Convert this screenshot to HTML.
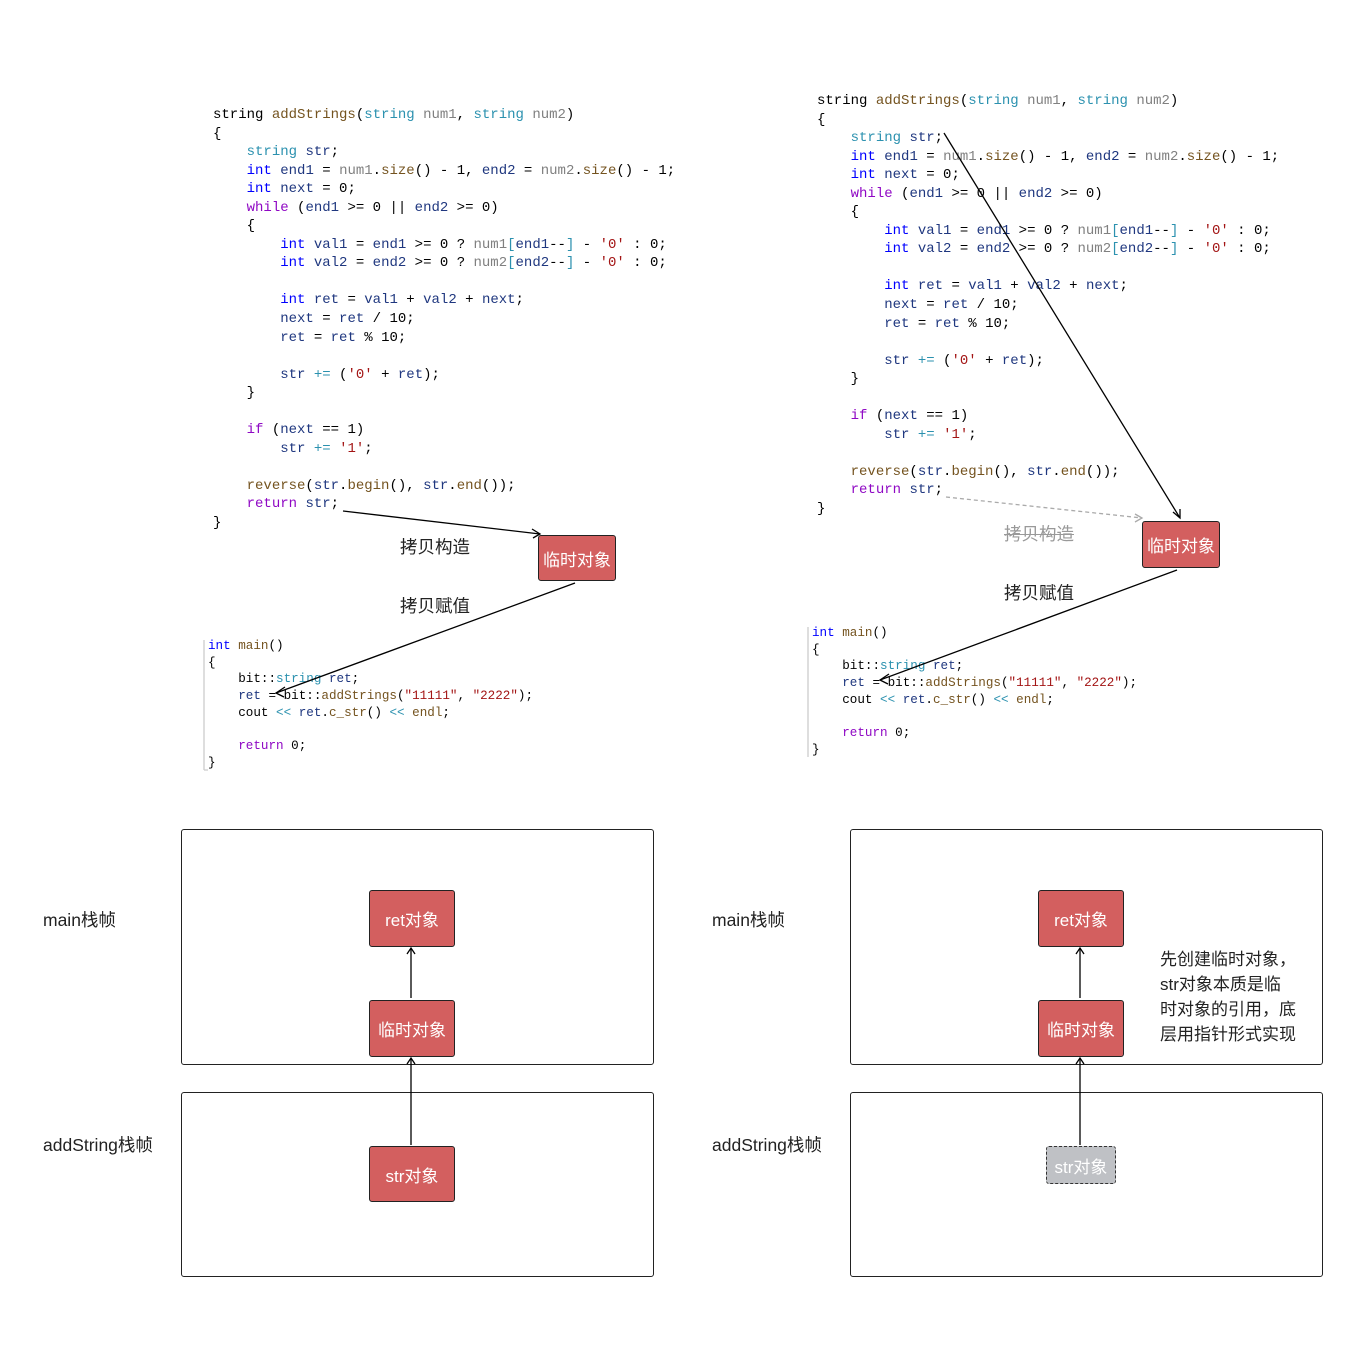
<!DOCTYPE html>
<html><head><meta charset="utf-8"><style>
body{margin:0;width:1363px;height:1354px;background:#fff;position:relative;overflow:hidden;font-family:"Liberation Sans","Noto Sans CJK SC",sans-serif}
pre{position:absolute;margin:0;font-family:"Liberation Mono","DejaVu Sans Mono",monospace;font-size:14px;line-height:18.55px;color:#000}
pre.m{font-size:12.6px;line-height:16.7px}
.k{color:#0000ff}.t{color:#2b91af}.p{color:#8f08c4}.v{color:#1f377f}.f{color:#74531f}.s{color:#a31515}.g{color:#808080}
.box{position:absolute;background:#d35f5f;border:1.5px solid #222;border-radius:3px;color:#fff;font-size:17px;display:flex;align-items:center;justify-content:center;box-sizing:border-box}
.lbl{position:absolute;font-size:17.5px;color:#222;white-space:nowrap}
.frame{position:absolute;border:1.5px solid #222;border-radius:3px;box-sizing:border-box}
</style></head><body>
<pre style="left:213px;top:106px">string <span class="f">addStrings</span>(<span class="t">string</span> <span class="g">num1</span>, <span class="t">string</span> <span class="g">num2</span>)
{
    <span class="t">string</span> <span class="v">str</span>;
    <span class="k">int</span> <span class="v">end1</span> = <span class="g">num1</span>.<span class="f">size</span>() - 1, <span class="v">end2</span> = <span class="g">num2</span>.<span class="f">size</span>() - 1;
    <span class="k">int</span> <span class="v">next</span> = 0;
    <span class="p">while</span> (<span class="v">end1</span> &gt;= 0 || <span class="v">end2</span> &gt;= 0)
    {
        <span class="k">int</span> <span class="v">val1</span> = <span class="v">end1</span> &gt;= 0 ? <span class="g">num1</span><span class="t">[</span><span class="v">end1</span>--<span class="t">]</span> - <span class="s">'0'</span> : 0;
        <span class="k">int</span> <span class="v">val2</span> = <span class="v">end2</span> &gt;= 0 ? <span class="g">num2</span><span class="t">[</span><span class="v">end2</span>--<span class="t">]</span> - <span class="s">'0'</span> : 0;

        <span class="k">int</span> <span class="v">ret</span> = <span class="v">val1</span> + <span class="v">val2</span> + <span class="v">next</span>;
        <span class="v">next</span> = <span class="v">ret</span> / 10;
        <span class="v">ret</span> = <span class="v">ret</span> % 10;

        <span class="v">str</span> <span class="t">+=</span> (<span class="s">'0'</span> + <span class="v">ret</span>);
    }

    <span class="p">if</span> (<span class="v">next</span> == 1)
        <span class="v">str</span> <span class="t">+=</span> <span class="s">'1'</span>;

    <span class="f">reverse</span>(<span class="v">str</span>.<span class="f">begin</span>(), <span class="v">str</span>.<span class="f">end</span>());
    <span class="p">return</span> <span class="v">str</span>;
}</pre>
<pre style="left:817px;top:92px">string <span class="f">addStrings</span>(<span class="t">string</span> <span class="g">num1</span>, <span class="t">string</span> <span class="g">num2</span>)
{
    <span class="t">string</span> <span class="v">str</span>;
    <span class="k">int</span> <span class="v">end1</span> = <span class="g">num1</span>.<span class="f">size</span>() - 1, <span class="v">end2</span> = <span class="g">num2</span>.<span class="f">size</span>() - 1;
    <span class="k">int</span> <span class="v">next</span> = 0;
    <span class="p">while</span> (<span class="v">end1</span> &gt;= 0 || <span class="v">end2</span> &gt;= 0)
    {
        <span class="k">int</span> <span class="v">val1</span> = <span class="v">end1</span> &gt;= 0 ? <span class="g">num1</span><span class="t">[</span><span class="v">end1</span>--<span class="t">]</span> - <span class="s">'0'</span> : 0;
        <span class="k">int</span> <span class="v">val2</span> = <span class="v">end2</span> &gt;= 0 ? <span class="g">num2</span><span class="t">[</span><span class="v">end2</span>--<span class="t">]</span> - <span class="s">'0'</span> : 0;

        <span class="k">int</span> <span class="v">ret</span> = <span class="v">val1</span> + <span class="v">val2</span> + <span class="v">next</span>;
        <span class="v">next</span> = <span class="v">ret</span> / 10;
        <span class="v">ret</span> = <span class="v">ret</span> % 10;

        <span class="v">str</span> <span class="t">+=</span> (<span class="s">'0'</span> + <span class="v">ret</span>);
    }

    <span class="p">if</span> (<span class="v">next</span> == 1)
        <span class="v">str</span> <span class="t">+=</span> <span class="s">'1'</span>;

    <span class="f">reverse</span>(<span class="v">str</span>.<span class="f">begin</span>(), <span class="v">str</span>.<span class="f">end</span>());
    <span class="p">return</span> <span class="v">str</span>;
}</pre>
<pre class="m" style="left:208px;top:638px"><span class="k">int</span> <span class="f">main</span>()
{
    bit::<span class="t">string</span> <span class="v">ret</span>;
    <span class="v">ret</span> = bit::<span class="f">addStrings</span>(<span class="s">"11111"</span>, <span class="s">"2222"</span>);
    cout <span class="t">&lt;&lt;</span> <span class="v">ret</span>.<span class="f">c_str</span>() <span class="t">&lt;&lt;</span> <span class="f">endl</span>;

    <span class="p">return</span> 0;
}</pre>
<pre class="m" style="left:812px;top:625px"><span class="k">int</span> <span class="f">main</span>()
{
    bit::<span class="t">string</span> <span class="v">ret</span>;
    <span class="v">ret</span> = bit::<span class="f">addStrings</span>(<span class="s">"11111"</span>, <span class="s">"2222"</span>);
    cout <span class="t">&lt;&lt;</span> <span class="v">ret</span>.<span class="f">c_str</span>() <span class="t">&lt;&lt;</span> <span class="f">endl</span>;

    <span class="p">return</span> 0;
}</pre>

<div class="box" style="left:538px;top:535px;width:78px;height:46px">临时对象</div>
<div class="box" style="left:1142px;top:521px;width:78px;height:47px">临时对象</div>
<div class="lbl" style="left:400px;top:534px">拷贝构造</div>
<div class="lbl" style="left:400px;top:593px">拷贝赋值</div>
<div class="lbl" style="left:1004px;top:521px;color:#999;text-decoration:line-through">拷贝构造</div>
<div class="lbl" style="left:1004px;top:580px">拷贝赋值</div>

<div class="frame" style="left:181px;top:829px;width:473px;height:236px"></div>
<div class="frame" style="left:181px;top:1092px;width:473px;height:185px"></div>
<div class="frame" style="left:850px;top:829px;width:473px;height:236px"></div>
<div class="frame" style="left:850px;top:1092px;width:473px;height:185px"></div>
<div class="lbl" style="left:43px;top:907px">main栈帧</div>
<div class="lbl" style="left:43px;top:1132px">addString栈帧</div>
<div class="lbl" style="left:712px;top:907px">main栈帧</div>
<div class="lbl" style="left:712px;top:1132px">addString栈帧</div>
<div class="box" style="left:369px;top:890px;width:86px;height:57px">ret对象</div>
<div class="box" style="left:369px;top:1000px;width:86px;height:57px">临时对象</div>
<div class="box" style="left:369px;top:1146px;width:86px;height:56px">str对象</div>
<div class="box" style="left:1038px;top:890px;width:86px;height:57px">ret对象</div>
<div class="box" style="left:1038px;top:1000px;width:86px;height:57px">临时对象</div>
<div class="box" style="left:1046px;top:1146px;width:70px;height:38px;background:#bfc1c5;border:1.5px dashed #333">str对象</div>
<div class="lbl" style="left:1160px;top:947px;line-height:25px;font-size:17px">先创建临时对象，<br>str对象本质是临<br>时对象的引用，底<br>层用指针形式实现</div>

<svg width="1363" height="1354" style="position:absolute;left:0;top:0" fill="none" stroke="#000" stroke-width="1.3">
<path d="M343 511 L540 534"/><path d="M532 529 L540 534 L533 538"/>
<path d="M575 583 L276 693"/><path d="M285 687 L276 693 L284 697"/>
<path d="M944 133 L1180 518"/><path d="M1173 512 L1180 518 L1180 509"/>
<path d="M946 497 L1142 518" stroke="#aaa" stroke-dasharray="4 3"/><path d="M1135 514 L1142 518 L1135 522" stroke="#aaa"/>
<path d="M1177 570 L880 680"/><path d="M889 674 L880 680 L888 684"/>
<path d="M411 998 L411 948"/><path d="M407 954 L411 948 L415 954"/>
<path d="M411 1145 L411 1058"/><path d="M407 1064 L411 1058 L415 1064"/>
<path d="M1080 998 L1080 948"/><path d="M1076 954 L1080 948 L1084 954"/>
<path d="M1080 1145 L1080 1058"/><path d="M1076 1064 L1080 1058 L1084 1064"/>
<path d="M204 640 L204 770 M208 770 L204 770" stroke="#ccc"/>
<path d="M808 627 L808 757" stroke="#ccc"/>
</svg>
</body></html>
